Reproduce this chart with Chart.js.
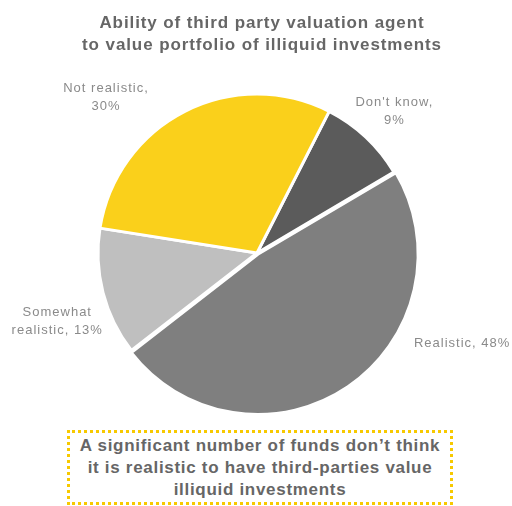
<!DOCTYPE html>
<html>
<head>
<meta charset="utf-8">
<script src="https://cdn.jsdelivr.net/npm/chart.js@4/dist/chart.umd.min.js"></script>
<style>
  body { margin: 0; background: #fff; }
  #wrap { position: relative; width: 512px; height: 506px; overflow: hidden; font-family: "Liberation Sans", Arial, sans-serif; }
  #chartBox { position: absolute; left: 0; top: 0; width: 512px; height: 506px; }
  #title { position: absolute; left: 6px; top: 12px; width: 512px; text-align: center; font-weight: bold; font-size: 17px; line-height: 22px; color: #666; letter-spacing: 0.9px; }
  #note { position: absolute; left: 67px; top: 430px; width: 380px; height: 67px; border: 3px dotted #f7c900; text-align: center; font-weight: bold; font-size: 17px; line-height: 22px; color: #666; letter-spacing: 0.7px; padding-top: 2px; background: #fff; }
</style>
</head>
<body>
<div id="wrap">
  <div id="chartBox"><canvas id="myChart"></canvas></div>
  <div id="title">Ability of third party valuation agent<br>to value portfolio of illiquid investments</div>
  <div id="note">A significant number of funds don’t think<br>it is realistic to have third-parties value<br>illiquid investments</div>
</div>
<script>
const categories = ["Don't know", "Realistic", "Somewhat realistic", "Not realistic"];
const values = [9, 48, 13, 30];
const labelText = ["Don't know,\n9%", "Realistic, 48%", "Somewhat\nrealistic, 13%", "Not realistic,\n30%"];
const colors = ["#5b5b5b", "#7f7f7f", "#bfbfbf", "#fad01b"];

// label placement: angle nudge (deg) from slice middle, distance from centre
const labelAngleNudge = [1, -32.1, -4.4, -17.1];
const labelDist = [197, 224, 211, 217];

const sliceLabels = {
  id: "sliceLabels",
  afterDatasetsDraw(chart) {
    const ctx = chart.ctx;
    const arcs = chart.getDatasetMeta(0).data;
    const cx = (chart.chartArea.left + chart.chartArea.right) / 2;
    const cy = (chart.chartArea.top + chart.chartArea.bottom) / 2;
    ctx.save();
    ctx.font = "13px 'Liberation Sans', Arial, sans-serif";
    ctx.letterSpacing = "1px";
    ctx.fillStyle = "#8a8a8a";
    ctx.textAlign = "center";
    ctx.textBaseline = "middle";
    arcs.forEach((arc, i) => {
      const p = arc.getProps(["startAngle", "endAngle"], true);
      const a = (p.startAngle + p.endAngle) / 2 + labelAngleNudge[i] * Math.PI / 180;
      const x = cx + Math.cos(a) * labelDist[i];
      const y = cy + Math.sin(a) * labelDist[i];
      const lines = labelText[i].split("\n");
      const lh = 18;
      lines.forEach((t, j) => {
        ctx.fillText(t, x, y + (j - (lines.length - 1) / 2) * lh);
      });
    });
    ctx.restore();
  }
};

const ctx = document.getElementById("myChart").getContext("2d");
const myChart = new Chart(ctx, {
  type: "pie",
  data: {
    labels: categories,
    datasets: [{
      data: values,
      backgroundColor: colors,
      borderColor: "#ffffff",
      borderWidth: 3,
      offset: [0, 6, 0, 0],
    }],
  },
  options: {
    responsive: true,
    maintainAspectRatio: false,
    animation: false,
    rotation: 27,
    radius: 159,
    layout: { padding: { left: 2, right: 0, top: 0, bottom: 0 } },
    plugins: {
      legend: { display: false },
      tooltip: { enabled: false },
    },
  },
  plugins: [sliceLabels],
});
</script>
</body>
</html>
